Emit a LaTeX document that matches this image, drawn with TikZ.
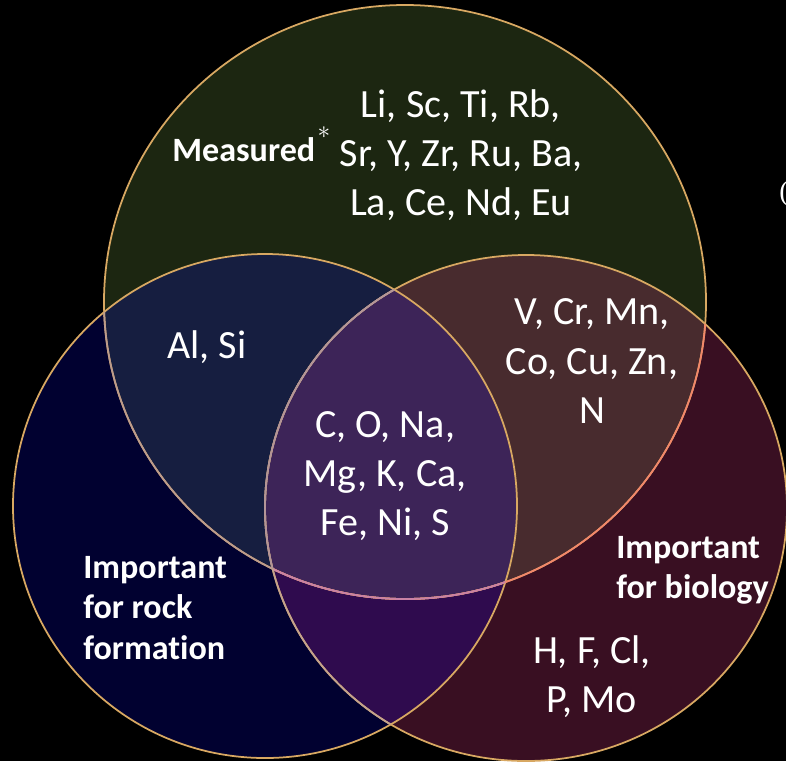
\documentclass[tikz,border=0pt]{standalone}
\usepackage{fontspec}
\setmainfont{Carlito}[Ligatures=NoCommon]
\newfontfamily\parenfont{Liberation Serif}

\definecolor{measfill}{HTML}{1C2611}
\definecolor{rockfill}{HTML}{010130}
\definecolor{biofill}{HTML}{390F22}
\definecolor{measrock}{HTML}{161E40}
\definecolor{measbio}{HTML}{482B2E}
\definecolor{rockbio}{HTML}{2F0B4E}
\definecolor{allthree}{HTML}{3D2458}
\definecolor{rimgold}{HTML}{D8A862}
\definecolor{rimbeige}{HTML}{BD9C8C}
\definecolor{rimsalmon}{HTML}{F2876A}
\definecolor{rimpink}{HTML}{C982A5}
\definecolor{rimsand}{HTML}{C4A38C}
\definecolor{rimmauve}{HTML}{B39598}

% the three sets, in pixel units of the picture
\def\measset{(405,302) ellipse [x radius=301, y radius=297]}
\def\rockset{(265,506) ellipse [x radius=252, y radius=252]}
\def\bioset{(526,508) ellipse [x radius=261, y radius=253]}

\begin{document}
\begin{tikzpicture}[
  x=0.02cm, y=-0.02cm,
  every node/.style={inner sep=0pt, text=white},
  rim/.style={draw=rimgold, line width=1pt},
  elems/.style={align=center, font=\fontsize{22.8}{27.9}\selectfont},
  setname/.style={align=left, font=\bfseries\fontsize{19.4}{22.8}\selectfont}]

  % backdrop
  \fill[black] (0,0) rectangle (786,761);
  \useasboundingbox (0,0) rectangle (786,761);

  % fills: single sets, then overlaps
  \fill[measfill] \measset;
  \fill[rockfill] \rockset;
  \fill[biofill] \bioset;
  \begin{scope}
    \clip \measset;
    \fill[measrock] \rockset;
    \fill[measbio] \bioset;
  \end{scope}
  \begin{scope}
    \clip \rockset;
    \fill[rockbio] \bioset;
  \end{scope}
  \begin{scope}
    \clip \measset;
    \clip \rockset;
    \fill[allthree] \bioset;
  \end{scope}

  % rims
  \draw[rim] \measset;
  \draw[rim] \rockset;
  \draw[rim] \bioset;

  % rim arcs seen through the other fills
  \begin{scope}
    \clip \rockset;
    \draw[rim, draw=rimbeige] \measset;
  \end{scope}
  \begin{scope}
    \clip \bioset;
    \draw[rim, draw=rimsalmon] \measset;
  \end{scope}
  \begin{scope}
    \clip \rockset;
    \clip \bioset;
    \draw[rim, draw=rimpink] \measset;
  \end{scope}
  \begin{scope}
    \clip \rockset;
    \draw[rim, draw=rimsand] \bioset;
  \end{scope}
  \begin{scope}
    \clip \rockset;
    \clip \measset;
    \draw[rim, draw=rimmauve] \bioset;
  \end{scope}

  % elements in each region
  \node[elems] (meas elems) at (461,155) {Li, Sc, Ti, Rb,\\Sr, Y, Zr, Ru, Ba,\\La, Ce, Nd, Eu};
  \node[elems, anchor=base] (measrock elems) at (207,358) {Al, Si};
  \node[elems] (measbio elems) at (592,361) {V, Cr, Mn,\\Co, Cu, Zn,\\N};
  \node[elems] (all elems) at (385,476) {C, O, Na,\\Mg, K, Ca,\\Fe, Ni, S};
  \node[elems] (bio elems) at (592,677) {H, F, Cl,\\P, Mo};

  % set names
  \node[setname, anchor=base west] (meas name) at (172,161) {Measured};
  \node[font=\Large] (meas star) at (324,133) {$\ast$};
  \node[setname, anchor=west] (rock name) at (83,608) {Important\\for rock\\formation};
  \node[setname, anchor=west] (bio name) at (616,570) {Important\\for biology};

  % cut-off text at the right edge
  \node[font=\parenfont\fontsize{16}{19}\selectfont, anchor=west] (paren) at (779,194) {(};
\end{tikzpicture}
\end{document}
